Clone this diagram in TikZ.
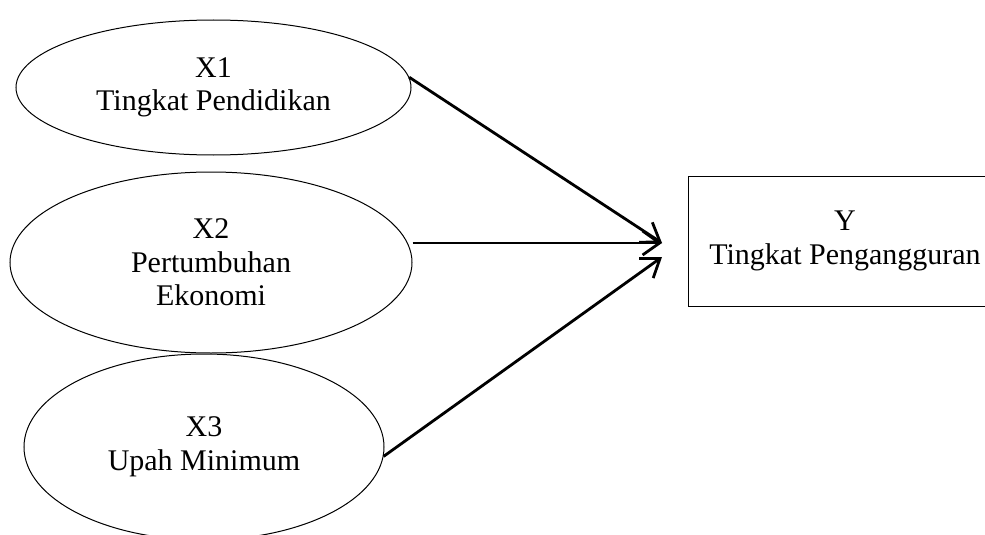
\documentclass[tikz,border=0pt]{standalone}
\usepackage{fontspec}
\setmainfont{Liberation Serif}
\usetikzlibrary{shapes.geometric,arrows.meta}

\begin{document}
\begin{tikzpicture}[x=1pt, y=-1pt, line width=1pt,
  font=\fontsize{30}{33.5}\selectfont,
  oval/.style={draw, ellipse, inner sep=0pt, align=center},
  box/.style={draw, rectangle, inner sep=0pt, align=center,
    minimum width=314pt, minimum height=130pt},
  effect/.style={-{Straight Barb[length=17pt,width=24pt]}, line width=2.8pt}]
\useasboundingbox (0,0) rectangle (985,535);

% variabel bebas
\node[oval, minimum width=395pt, minimum height=135pt] (x1) at (213.5,87.5) {X1\\Tingkat Pendidikan};
\node[oval, minimum width=402pt, minimum height=181pt] (x2) at (211,262.5) {X2\\Pertumbuhan\\Ekonomi};
\node[oval, minimum width=360pt, minimum height=186pt] (x3) at (204,447) {X3\\Upah Minimum};

% variabel terikat
\node[box] (y) at (845,241) {Y\\Tingkat Pengangguran};

\coordinate (in1) at (662,243);
\coordinate (in3) at (662,257);

\draw[effect] (x1.3) -- (in1);
\draw[effect] (x2.east |- in1) -- (in1);
\draw[effect] (x3.-3) -- (in3);
\end{tikzpicture}
\end{document}
